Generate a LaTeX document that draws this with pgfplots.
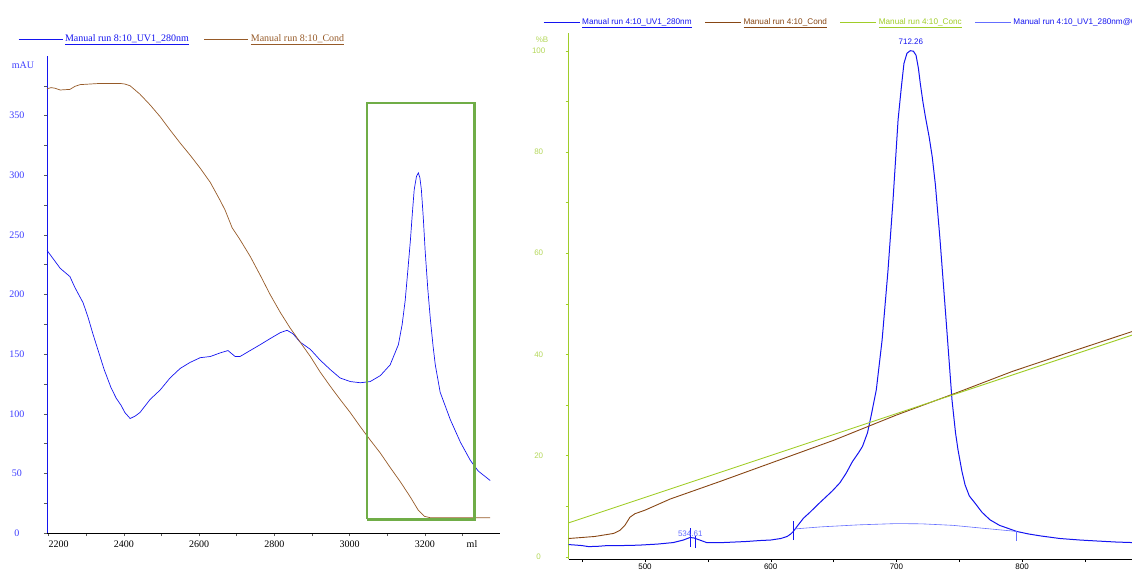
\documentclass[border=0pt]{standalone}
\usepackage{fontspec}
\setmainfont{Liberation Serif}
\newfontfamily\lsans{Liberation Sans}
\usepackage{pgfplots}
\pgfplotsset{compat=1.18}
\definecolor{uvblue}{RGB}{20,20,240}
\definecolor{condbrown}{RGB}{150,90,40}
\definecolor{condbrownR}{RGB}{135,70,20}
\definecolor{concgreen}{RGB}{160,205,40}
\definecolor{conclabel}{RGB}{180,215,90}
\definecolor{rectgreen}{RGB}{112,173,71}
\definecolor{baseblue}{RGB}{100,110,255}
\definecolor{lblblue}{RGB}{60,60,255}
\begin{document}
\begin{tikzpicture}
\useasboundingbox (0pt,0pt) rectangle (1132pt,573pt);
% ---------------- left panel ----------------
\begin{axis}[at={(47pt,40pt)}, anchor=south west, scale only axis,
  width=453pt, height=477pt,
  xmin=2196, xmax=3400, ymin=0, ymax=400,
  axis x line=bottom, axis y line=left,
  axis line style={-},
  x axis line style={black, line width=0.8pt},
  y axis line style={uvblue, line width=0.8pt},
  xtick={2200,2300,...,3300},
  xticklabels={\rlap{2200},,2400,,2600,,2800,,3000,,3200,},
  ytick={0,50,...,350}, minor ytick={25,75,...,375},
  tick align=outside, major tick length=3pt, minor tick length=3pt,
  tick style={gray!70!black, line width=0.4pt},
  /pgf/number format/assume math mode=true,
  x tick label style={font=\fontsize{10}{12}\selectfont, black, yshift=-1pt},
  y tick label style={font=\fontsize{10}{12}\selectfont, lblblue, anchor=center, xshift=-27pt},
  legend style={at={(-0.064,1.0356)}, anchor=west, draw=none, fill=none, inner sep=0pt,
    font=\fontsize{10}{12}\selectfont, legend columns=-1,
    /tikz/every even column/.append style={column sep=13pt}},
  legend image code/.code={\draw[#1, line width=0.9pt] (0pt,0pt) -- (44pt,0pt);},
]
\addplot[uvblue, line width=0.7pt] coordinates {
(2196,237) (2231,222) (2257,215) (2270,206) (2292,193) (2305,181) (2318,167) (2332,153)
(2348,137) (2366,122) (2380,113) (2393,107) (2403,101) (2417,96) (2430,98) (2443,101)
(2470,112) (2497,120) (2523,130) (2550,138) (2576,143) (2603,147) (2630,148) (2656,151)
(2677,153) (2696,148) (2709,148) (2736,153) (2763,158) (2789,163) (2816,168) (2834,170)
(2850,167) (2869,160) (2896,154) (2922,145) (2949,137) (2975,130) (3002,127) (3029,126)
(3055,127) (3082,132) (3108,141) (3130,158) (3140,175) (3148,195) (3155,220) (3162,246)
(3167,268) (3172,288) (3178,299) (3183,302) (3187,298) (3191,288) (3196,265) (3201,237)
(3208,205) (3215,179) (3222,157) (3228,141) (3241,118) (3268,95) (3295,76) (3321,61)
(3342,52) (3374,44)};
\addlegendentry{\textcolor{uvblue}{\underline{Manual run 8:10\_UV1\_280nm}}}
\addplot[condbrown, line width=0.7pt] coordinates {
(2196,372.5) (2207,373.5) (2217,373) (2231,371.5) (2257,372) (2270,374.5) (2284,376)
(2337,377) (2390,377) (2403,376.5) (2417,375) (2443,368) (2470,359) (2497,349) (2523,338)
(2550,327) (2576,317) (2603,306) (2630,294) (2656,279) (2669,271) (2688,256) (2709,246)
(2736,232) (2763,216) (2789,200) (2816,185) (2842,172) (2869,160) (2896,148) (2922,135)
(2949,123) (2975,112) (3002,101) (3029,89) (3055,78) (3082,67) (3108,55) (3135,43)
(3162,30) (3183,19) (3199,14) (3215,12.8) (3374,12.8)};
\addlegendentry{\textcolor{condbrown}{\underline{Manual run 8:10\_Cond}}}
\addplot[rectgreen, line width=2.6pt, forget plot] coordinates {
(3047,11.5) (3332,11.5) (3332,360.7) (3047,360.7) (3047,11.5)};
\end{axis}
\node[text=lblblue, font=\fontsize{10}{12}\selectfont] at (23pt,508pt) {mAU};
\node[font=\fontsize{10}{12}\selectfont, anchor=north] at (472pt,36pt) {ml};
% ---------------- right panel ----------------
\begin{axis}[at={(568.7pt,14pt)}, anchor=south west, scale only axis,
  width=563.3pt, height=526pt,
  xmin=439.3, xmax=887.4, ymin=-0.45, ymax=103.5,
  axis x line=bottom, axis y line=left,
  axis line style={-},
  x axis line style={black, line width=0.8pt},
  y axis line style={concgreen, line width=0.8pt},
  xtick={500,600,700,800}, minor xtick={450,550,650,750,850},
  ytick={0,20,...,100}, minor ytick={10,30,...,90},
  tick align=outside, major tick length=3pt, minor tick length=3pt,
  x tick style={black, line width=0.4pt},
  y tick style={concgreen, line width=0.4pt},
  /pgf/number format/assume math mode=true,
  x tick label style={font=\lsans\fontsize{8}{10}\selectfont, black, yshift=2pt},
  y tick label style={font=\lsans\fontsize{8}{10}\selectfont, conclabel, anchor=center, xshift=-27pt},
  legend style={at={(-0.0456,1.0206)}, anchor=west, draw=none, fill=none, inner sep=0pt,
    font=\lsans\fontsize{8.2}{10}\selectfont, legend columns=-1,
    /tikz/every even column/.append style={column sep=11pt}},
  legend image code/.code={\draw[#1] (0pt,0pt) -- (36pt,0pt);},
]
\addplot[uvblue, line width=1pt] coordinates {
(439.3,2.4) (445,2.3) (450,2.2) (455,2.0) (462,2.05) (470,2.2) (480,2.2) (490,2.25)
(496,2.3) (510,2.5) (522.5,2.8) (530.5,3.3) (535.8,3.8) (539,3.7) (542.4,3.4) (549,2.8)
(562,2.8) (580,3.0) (591.5,3.2) (600,3.3) (608,3.6) (613,4.0) (616,4.5) (618,5.0)
(621,6.0) (626,7.6) (631.3,8.8) (637,10.2) (643,11.6) (649,13.0) (655,14.6) (660,16.5)
(665,18.8) (670,20.6) (673,21.8) (677,24.5) (680,28) (684,33) (688.6,42.8) (693.3,56.6)
(697.3,70.5) (701.3,86.3) (704,93) (706,97.5) (708.4,99.5) (711,100) (713.5,99.9)
(715.6,99.1) (717.5,96.5) (719,93.5) (721,90) (723,87) (726,83) (728.5,79) (731,73.5)
(734.7,62.6) (739.5,46.8) (744.2,31) (747,24.5) (749,21.1) (752,17) (754.6,14.2)
(758,12) (762.5,10.6) (768,8.8) (774.4,7.3) (782,6.2) (790,5.5) (795.6,5.0) (805,4.5)
(815,4.1) (830,3.6) (846,3.3) (860,3.1) (875,2.9) (887.5,2.8)};
\addlegendentry{\textcolor{uvblue}{\underline{Manual run 4:10\_UV1\_280nm}}}
\addplot[condbrownR, line width=0.9pt] coordinates {
(439.3,3.6) (460,4.0) (475,4.6) (480,5.2) (484,6.2) (488,7.8) (492,8.5) (500,9.2)
(520,11.4) (560,14.9) (600,18.5) (650,23.0) (700,28.0) (750,32.6) (792,36.6) (840,40.6) (887.5,44.5)};
\addlegendentry{\textcolor{condbrownR}{\underline{Manual run 4:10\_Cond}}}
\addplot[concgreen, line width=0.9pt] coordinates {(439.3,6.7) (887.5,43.8)};
\addlegendentry{\textcolor{concgreen}{\underline{Manual run 4:10\_Conc}}}
\addplot[baseblue, line width=0.6pt] coordinates {
(619.4,5.5) (640,5.9) (670,6.3) (700,6.55) (720,6.5) (745,6.2) (770,5.6) (795.6,5.0)};
\addlegendentry{\textcolor{uvblue}{Manual run 4:10\_UV1\_280nm@01,BASEM}}
\addplot[uvblue, line width=0.6pt, forget plot] coordinates {(536.4,2.0) (536.4,5.7)};
\addplot[uvblue, line width=0.6pt, forget plot] coordinates {(539.8,1.7) (539.8,4.0)};
\addplot[uvblue, line width=0.6pt, forget plot] coordinates {(617.8,3.3) (617.8,7.0)};
\addplot[baseblue, line width=0.8pt, forget plot] coordinates {(795.6,3.1) (795.6,5.0)};
\node[text=baseblue, font=\lsans\fontsize{8}{10}\selectfont] at (axis cs:536,4.6) {534.61};
\node[text=uvblue, font=\lsans\fontsize{8}{10}\selectfont, anchor=south] at (axis cs:711.5,100.6) {712.26};
\end{axis}
\node[text=conclabel, font=\lsans\fontsize{8}{10}\selectfont] at (542pt,533pt) {\%B};
\end{tikzpicture}
\end{document}
